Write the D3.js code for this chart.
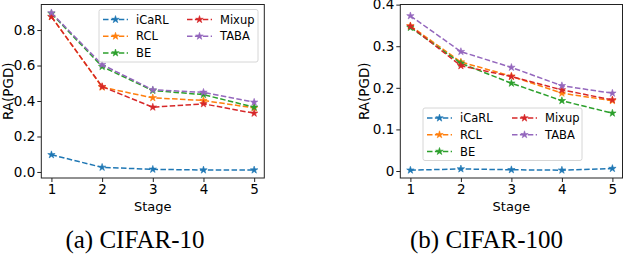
<!DOCTYPE html>
<html><head><meta charset="utf-8">
<script src="https://cdn.jsdelivr.net/npm/d3@7"></script>
<style>
html,body{margin:0;padding:0;background:#fff;}
svg{display:block;}
</style></head>
<body>
<svg id="c" width="624" height="256"></svg>
<script>
const stages = [1, 2, 3, 4, 5];
const seriesNames = ["iCaRL", "RCL", "BE", "Mixup", "TABA"];
const colors = ["#1f77b4", "#ff7f0e", "#2ca02c", "#d62728", "#9467bd"];

// CIFAR-10
const c10_iCaRL = [0.097, 0.026, 0.015, 0.011, 0.011];
const c10_RCL   = [0.876, 0.478, 0.418, 0.403, 0.361];
const c10_BE    = [0.893, 0.594, 0.459, 0.436, 0.365];
const c10_Mixup = [0.875, 0.481, 0.365, 0.384, 0.331];
const c10_TABA  = [0.897, 0.605, 0.463, 0.449, 0.393];
const c10_yTicks = [0.0, 0.2, 0.4, 0.6, 0.8];
const c10_yTickLabels = ["0.0", "0.2", "0.4", "0.6", "0.8"];

// CIFAR-100
const c100_iCaRL = [0.002, 0.005, 0.003, 0.002, 0.006];
const c100_RCL   = [0.349, 0.262, 0.228, 0.187, 0.169];
const c100_BE    = [0.345, 0.259, 0.211, 0.169, 0.139];
const c100_Mixup = [0.348, 0.253, 0.227, 0.195, 0.171];
const c100_TABA  = [0.373, 0.287, 0.249, 0.205, 0.187];
const c100_yTicks = [0, 0.1, 0.2, 0.3, 0.4];
const c100_yTickLabels = ["0", "0.1", "0.2", "0.3", "0.4"];

const xLabel = "Stage";
const yLabel = "RA(PGD)";
const captions = ["(a) CIFAR-10", "(b) CIFAR-100"];

const svg = d3.select("#c");
const FONT = "'DejaVu Sans', sans-serif";

function panel(cfg) {
  const {left, right, top, bottom, ydom, series, yTicks, yTickLabels, legend, ylabelX, caption, captionX} = cfg;
  const x = d3.scaleLinear().domain([0.8, 5.2]).range([left, right]);
  const y = d3.scaleLinear().domain(ydom).range([bottom, top]);
  const g = svg.append("g");

  const xa = g.append("g").attr("transform", `translate(0,${bottom})`)
    .call(d3.axisBottom(x).tickValues(stages).tickFormat(d3.format("d")).tickSize(4).tickPadding(2));
  const ya = g.append("g").attr("transform", `translate(${left},0)`)
    .call(d3.axisLeft(y).tickValues(yTicks).tickFormat((d, i) => yTickLabels[i]).tickSize(4).tickPadding(2));
  [xa, ya].forEach(a => {
    a.select(".domain").remove();
    a.selectAll("line").attr("stroke", "#222").attr("stroke-width", 1);
    a.selectAll("text").attr("font-family", FONT).attr("font-size", 13.5).attr("fill", "#000");
  });
  xa.selectAll("text").attr("dy", "0.72em");

  const line = d3.line().x((d, i) => x(stages[i])).y(d => y(d));
  const star = d3.symbol().type(d3.symbolStar).size(17);
  series.forEach((vals, si) => {
    g.append("path").attr("d", line(vals)).attr("fill", "none")
      .attr("stroke", colors[si]).attr("stroke-width", 1.5).attr("stroke-dasharray", "5.5,2.4");
    g.selectAll(null).data(vals).enter().append("path")
      .attr("d", star).attr("transform", (d, i) => `translate(${x(stages[i])},${y(d)})`)
      .attr("fill", colors[si]).attr("stroke", colors[si]).attr("stroke-width", 0.6);
  });

  g.append("rect").attr("x", left).attr("y", top).attr("width", right - left).attr("height", bottom - top)
    .attr("fill", "none").attr("stroke", "#222").attr("stroke-width", 1);

  const lg = g.append("g");
  lg.append("rect").attr("x", legend.x).attr("y", legend.y).attr("width", legend.w).attr("height", legend.h)
    .attr("rx", 2).attr("fill", "#fff").attr("fill-opacity", 0.8).attr("stroke", "#d6d6d6").attr("stroke-width", 1);
  seriesNames.forEach((name, si) => {
    const col = si < 3 ? 0 : 1;
    const row = si < 3 ? si : si - 3;
    const hx = legend.x + 4 + col * legend.colW;
    const hy = legend.y + 10 + row * 16.7;
    lg.append("line").attr("x1", hx).attr("x2", hx + 25).attr("y1", hy).attr("y2", hy)
      .attr("stroke", colors[si]).attr("stroke-width", 1.5).attr("stroke-dasharray", "5.5,2.4");
    lg.append("path").attr("d", star).attr("transform", `translate(${hx + 12.5},${hy})`)
      .attr("fill", colors[si]).attr("stroke", colors[si]).attr("stroke-width", 0.6);
    lg.append("text").attr("x", hx + 33).attr("y", hy).attr("dy", "0.36em")
      .attr("font-family", FONT).attr("font-size", 11.5).attr("fill", "#000").text(name);
  });

  g.append("text").attr("x", (left + right) / 2).attr("y", 211).attr("text-anchor", "middle")
    .attr("font-family", FONT).attr("font-size", 13).text(xLabel);
  g.append("text").attr("transform", `translate(${ylabelX},${(top + bottom) / 2}) rotate(-90)`)
    .attr("text-anchor", "middle").attr("font-family", FONT).attr("font-size", 13.5).text(yLabel);
  g.append("text").attr("x", captionX).attr("y", 248).attr("text-anchor", "middle")
    .attr("font-family", "'Liberation Serif', 'Times New Roman', serif").attr("font-size", 25).text(caption);
}

panel({
  left: 41.3, right: 264.3, top: 4.5, bottom: 178,
  ydom: [-0.034, 0.944],
  series: [c10_iCaRL, c10_RCL, c10_BE, c10_Mixup, c10_TABA],
  yTicks: c10_yTicks, yTickLabels: c10_yTickLabels,
  legend: {x: 99, y: 9.5, w: 159, h: 52.5, colW: 84},
  ylabelX: 12.5, caption: captions[0], captionX: 135
});
panel({
  left: 400.3, right: 622.5, top: 4.5, bottom: 178,
  ydom: [-0.0168, 0.4003],
  series: [c100_iCaRL, c100_RCL, c100_BE, c100_Mixup, c100_TABA],
  yTicks: c100_yTicks, yTickLabels: c100_yTickLabels,
  legend: {x: 423, y: 108, w: 159, h: 52.5, colW: 85},
  ylabelX: 369, caption: captions[1], captionX: 486.5
});
</script>
</body></html>
